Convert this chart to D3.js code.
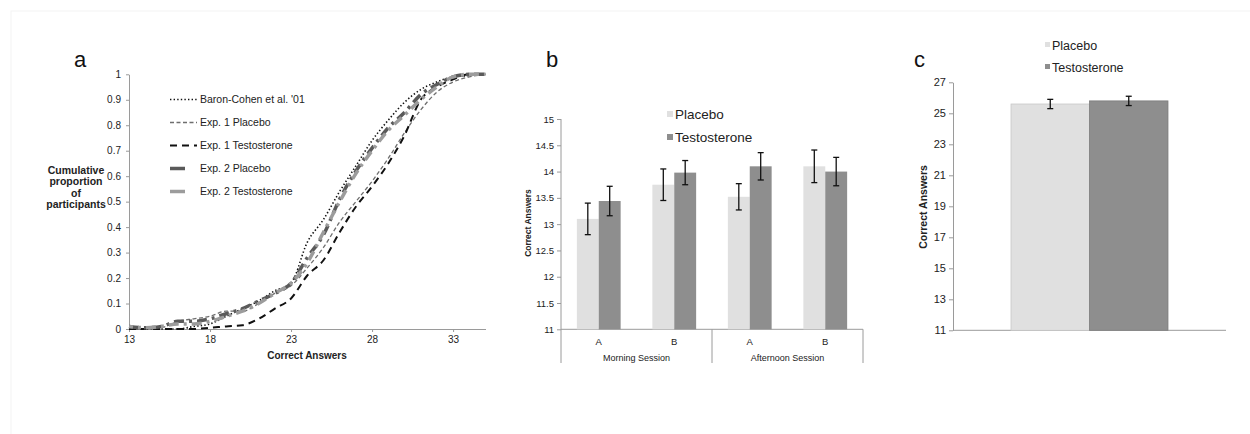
<!DOCTYPE html>
<html><head><meta charset="utf-8">
<script src="https://cdn.jsdelivr.net/npm/d3@7"></script>
<style>
body{margin:0;background:#fff}
svg{display:block;font-family:"Liberation Sans",Arial,Helvetica,sans-serif}
</style>
</head><body>
<svg id="chart" width="1250" height="434"></svg>
<script>
// ---------- Panel a data ----------
const scores = [13,14,15,16,17,18,19,20,21,22,23,24,25,26,27,28,29,30,31,32,33,34,35];
const baronCohen      = [0,0,0,0,0.01,0.02,0.05,0.08,0.11,0.15,0.18,0.34,0.43,0.54,0.64,0.74,0.82,0.89,0.94,0.97,0.99,0.995,1];
const exp1Placebo     = [0,0,0.005,0.03,0.04,0.05,0.07,0.07,0.10,0.14,0.17,0.24,0.32,0.42,0.50,0.58,0.67,0.77,0.86,0.93,0.97,0.99,1];
const exp1Testosterone= [0,0,0,0,0,0.005,0.01,0.015,0.04,0.08,0.12,0.21,0.27,0.38,0.48,0.56,0.65,0.76,0.90,0.95,0.98,1,1];
const exp2Placebo     = [0.01,0.005,0.01,0.03,0.03,0.04,0.06,0.08,0.11,0.14,0.18,0.28,0.37,0.51,0.62,0.71,0.79,0.85,0.92,0.96,0.99,1,1];
const exp2Testosterone= [0.01,0.005,0.01,0.02,0.02,0.03,0.05,0.07,0.10,0.14,0.18,0.26,0.38,0.50,0.61,0.70,0.78,0.84,0.90,0.95,0.99,1,1];
const seriesNames = ["Baron-Cohen et al. '01","Exp. 1 Placebo","Exp. 1 Testosterone","Exp. 2 Placebo","Exp. 2 Testosterone"];
const aXTicks = [13,18,23,28,33];
const aYTicks = [0,0.1,0.2,0.3,0.4,0.5,0.6,0.7,0.8,0.9,1];

// ---------- Panel b data ----------
const versions = ["A","B","A","B"];
const sessions = ["Morning Session","Afternoon Session"];
const placeboB    = [13.1,13.75,13.52,14.1];
const placeboBErr = [0.30,0.30,0.25,0.31];
const testoB      = [13.44,13.98,14.1,14.0];
const testoBErr   = [0.28,0.23,0.26,0.27];
const bYTicks = [11,11.5,12,12.5,13,13.5,14,14.5,15];

// ---------- Panel c data ----------
const placeboC = 25.6, placeboCErr = 0.3;
const testoC = 25.8, testoCErr = 0.3;
const cYTicks = [11,13,15,17,19,21,23,25,27];

const groupNames = ["Placebo","Testosterone"];
const placeboColor = "#e0e0e0", testoColor = "#8e8e8e";

const svg = d3.select("#chart");
svg.append("rect").attr("x",11).attr("y",11).attr("width",1250).attr("height",434)
  .attr("fill","none").attr("stroke","#f3f3f3");

function styleAxis(g, fs){
  g.select(".domain").attr("stroke","#9a9a9a");
  g.selectAll(".tick line").attr("stroke","#9a9a9a");
  g.selectAll(".tick text").attr("fill","#222").attr("font-size",fs);
}

// ================= Panel a =================
{
  const x = d3.scaleLinear().domain([13,35]).range([129,485.5]);
  const y = d3.scaleLinear().domain([0,1]).range([329,74.3]);
  const gx = svg.append("g").attr("transform",`translate(0,${y(0)})`)
    .call(d3.axisBottom(x).tickValues(aXTicks).tickSize(3).tickSizeOuter(0).tickPadding(4));
  styleAxis(gx, 10);
  const gy = svg.append("g").attr("transform",`translate(${x(13)},0)`)
    .call(d3.axisLeft(y).tickValues(aYTicks).tickSize(3).tickSizeOuter(0).tickFormat(d=>String(+d.toFixed(1))).tickPadding(5));
  styleAxis(gy, 10);

  svg.append("text").attr("x",307).attr("y",359).attr("text-anchor","middle")
    .attr("font-size",10).attr("font-weight","bold").attr("fill","#222").text("Correct Answers");
  const yl = svg.append("text").attr("text-anchor","middle").attr("font-size",10.5)
    .attr("font-weight","bold").attr("fill","#222");
  ["Cumulative","proportion","of","participants"].forEach((t,i)=>{
    yl.append("tspan").attr("x",76).attr("y",173.5+i*11.5).text(t);
  });
  svg.append("text").attr("x",74).attr("y",67).attr("font-size",22).attr("fill","#111").text("a");

  const styles = [
    {color:"#111", w:1.6, dash:"1.4,2.2"},
    {color:"#6e6e6e", w:1.3, dash:"4,2.5"},
    {color:"#111", w:2, dash:"7,5"},
    {color:"#5a5a5a", w:3.5, dash:"10,5,3,5"},
    {color:"#9c9c9c", w:3.5, dash:"10,5,3,5"}
  ];
  const data = [baronCohen, exp1Placebo, exp1Testosterone, exp2Placebo, exp2Testosterone];
  const line = d3.line().x((d,i)=>x(scores[i])).y(d=>y(d)).curve(d3.curveMonotoneX);
  data.forEach((s,k)=>{
    svg.append("path").datum(s).attr("d",line).attr("fill","none")
      .attr("stroke",styles[k].color).attr("stroke-width",styles[k].w)
      .attr("stroke-dasharray",styles[k].dash).attr("stroke-dashoffset",k===4?6:0);
  });
  // legend
  const legY = [99.5,122.5,145.5,168.5,191.5];
  seriesNames.forEach((n,k)=>{
    const st = styles[k];
    let x1=170,x2=197, dash=st.dash;
    if(k>=3){x1=170;x2=185;dash=null;}
    if(k===2){dash="7,5";}
    svg.append("line").attr("x1",x1).attr("x2",x2).attr("y1",legY[k]).attr("y2",legY[k])
      .attr("stroke",st.color).attr("stroke-width",st.w).attr("stroke-dasharray",dash);
    svg.append("text").attr("x",200).attr("y",legY[k]+3.8).attr("font-size",10.5)
      .attr("fill","#222").text(n);
  });
}

// ================= Panel b =================
{
  const y = d3.scaleLinear().domain([11,15]).range([329.3,119]);
  const xb = d3.scaleBand().domain(d3.range(versions.length)).range([561,863]).padding(0);
  const bw = xb.bandwidth()*0.29;
  const gy = svg.append("g").attr("transform","translate(561,0)")
    .call(d3.axisLeft(y).tickValues(bYTicks).tickSize(4).tickSizeOuter(0).tickFormat(d=>String(d)).tickPadding(3));
  styleAxis(gy, 9.5);
  gy.select(".domain").remove();
  svg.append("line").attr("x1",561).attr("x2",561).attr("y1",y(15)).attr("y2",363).attr("stroke","#9a9a9a");
  svg.append("line").attr("x1",561).attr("x2",863).attr("y1",y(11)).attr("y2",y(11)).attr("stroke","#9a9a9a");
  [xb(2), 863].forEach(v=>{
    svg.append("line").attr("x1",v).attr("x2",v).attr("y1",y(11)).attr("y2",363).attr("stroke","#9a9a9a");
  });
  versions.forEach((v,i)=>{
    const cx = xb(i)+xb.bandwidth()/2;
    svg.append("text").attr("x",cx).attr("y",345).attr("text-anchor","middle").attr("font-size",9.5).attr("fill","#222").text(v);
    [[placeboB,placeboBErr,placeboColor,-1],[testoB,testoBErr,testoColor,0]].forEach(([vals,errs,col,off])=>{
      const x0 = cx + off*bw;
      svg.append("rect").attr("x",x0).attr("width",bw).attr("y",y(vals[i])).attr("height",y(11)-y(vals[i]))
        .attr("fill",col);
      const ex = x0+bw/2;
      const e = svg.append("g").attr("stroke","#111").attr("stroke-width",1.3);
      e.append("line").attr("x1",ex).attr("x2",ex).attr("y1",y(vals[i]+errs[i])).attr("y2",y(vals[i]-errs[i]));
      [vals[i]+errs[i], vals[i]-errs[i]].forEach(t=>{
        e.append("line").attr("x1",ex-3).attr("x2",ex+3).attr("y1",y(t)).attr("y2",y(t));
      });
    });
  });
  sessions.forEach((s,j)=>{
    const cx = (xb(j*2)+xb(j*2+1)+xb.bandwidth())/2;
    svg.append("text").attr("x",cx).attr("y",361).attr("text-anchor","middle").attr("font-size",9).attr("fill","#222").text(s);
  });
  svg.append("text").attr("transform",`translate(531,223) rotate(-90)`).attr("text-anchor","middle")
    .attr("font-size",8.5).attr("font-weight","bold").attr("fill","#222").text("Correct Answers");
  svg.append("text").attr("x",546).attr("y",67).attr("font-size",22).attr("fill","#111").text("b");
  groupNames.forEach((n,k)=>{
    const ly = [114,137][k];
    svg.append("rect").attr("x",667).attr("y",ly-3).attr("width",6).attr("height",6).attr("fill",[placeboColor,testoColor][k]);
    svg.append("text").attr("x",675).attr("y",ly+5).attr("font-size",13.5).attr("fill","#222").text(n);
  });
}

// ================= Panel c =================
{
  const y = d3.scaleLinear().domain([11,27]).range([330.3,82.3]);
  const xc = d3.scaleBand().domain(["all"]).range([953,1226]);
  const bw = xc.bandwidth()*0.2875;
  const gy = svg.append("g").attr("transform","translate(953,0)")
    .call(d3.axisLeft(y).tickValues(cYTicks).tickSize(4).tickSizeOuter(0).tickPadding(3));
  styleAxis(gy, 11);
  svg.append("line").attr("x1",953).attr("x2",1226).attr("y1",y(11)).attr("y2",y(11)).attr("stroke","#9a9a9a");
  const cx = xc("all")+xc.bandwidth()/2;
  [[placeboC,placeboCErr,placeboColor,-1,"#c8c8c8"],[testoC,testoCErr,testoColor,0,"#7e7e7e"]].forEach(([v,er,col,off,sc])=>{
    const x0 = cx + off*bw;
    svg.append("rect").attr("x",x0).attr("width",bw).attr("y",y(v)).attr("height",y(11)-y(v))
      .attr("fill",col).attr("stroke",sc).attr("stroke-width",0.8);
    const ex = x0+bw/2;
    const e = svg.append("g").attr("stroke","#111").attr("stroke-width",1.3);
    e.append("line").attr("x1",ex).attr("x2",ex).attr("y1",y(v+er)).attr("y2",y(v-er));
    [v+er,v-er].forEach(t=>{
      e.append("line").attr("x1",ex-3).attr("x2",ex+3).attr("y1",y(t)).attr("y2",y(t));
    });
  });
  svg.append("text").attr("transform",`translate(927,207) rotate(-90)`).attr("text-anchor","middle")
    .attr("font-size",10.5).attr("font-weight","bold").attr("fill","#222").text("Correct Answers");
  svg.append("text").attr("x",914).attr("y",67).attr("font-size",22).attr("fill","#111").text("c");
  groupNames.forEach((n,k)=>{
    const ly = [45,67][k];
    svg.append("rect").attr("x",1045).attr("y",ly-3).attr("width",5).attr("height",5).attr("fill",[placeboColor,testoColor][k]);
    svg.append("text").attr("x",1052).attr("y",ly+4.5).attr("font-size",12.5).attr("fill","#222").text(n);
  });
}
</script>
</body></html>
